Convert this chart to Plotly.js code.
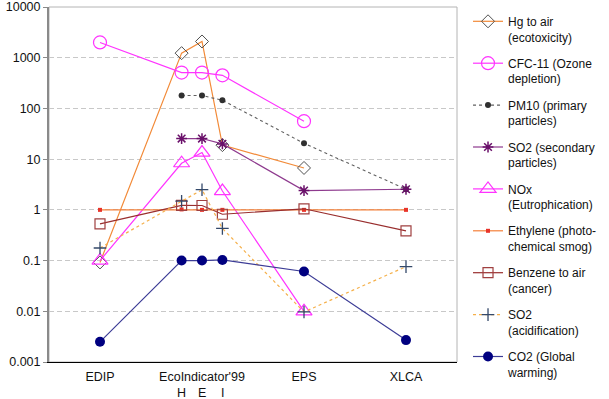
<!DOCTYPE html>
<html>
<head>
<meta charset="utf-8">
<script src="https://cdn.plot.ly/plotly-3.0.1.min.js"></script>
<style>html,body{margin:0;padding:0;background:#fff;}#chart{width:609px;height:399px;}</style>
</head>
<body>
<div id="chart"></div>
<script>
// Categories (methods); EcoIndicator'99 has three perspectives H, E, I
const categories = ['EDIP', 'H', 'E', 'I', 'EPS', 'XLCA'];
const mainLabels = ['EDIP', "EcoIndicator'99", 'EPS', 'XLCA'];
const subLabels = ['H', 'E', 'I'];
const yTickVals = [0.001, 0.01, 0.1, 1, 10, 100, 1000, 10000];
const yTickText = ['0.001', '0.01', '0.1', '1', '10', '100', '1000', '10000'];

// Series values (null = not available)
const hgToAir    = [0.092, 1230, 2090, 18.9, 6.7, null];
const cfc11      = [2000, 510, 510, 450, 56, null];
const pm10       = [null, 180, 180, 145, 20.5, 2.55];
const so2Second  = [null, 25.5, 25.5, 20, 2.4, 2.55];
const nox        = [0.1, 8.3, 13.5, 2.35, 0.01, null];
const ethylene   = [1, 1.02, 1, 1, 1, 1];
const benzene    = [0.53, 1.23, 1.22, 0.82, 1.05, 0.385];
const so2Acid    = [0.177, 1.48, 2.5, 0.43, 0.0097, 0.076];
const co2        = [0.0025, 0.1, 0.1, 0.103, 0.061, 0.0027];

// category positions on the numeric x axis
const catPos = {EDIP: 0, H: 0.8, E: 1, I: 1.2, EPS: 2, XLCA: 3};
const mainPos = {EDIP: 0, "EcoIndicator'99": 1, EPS: 2, XLCA: 3};
const xs = categories.map(c => catPos[c]);

function tr(name, y, line, marker, g) {
  return {type: 'scatter', mode: 'lines+markers', name: name, x: xs, y: y,
          connectgaps: false, line: line, marker: marker, legendgroup: g};
}

const data = [
  tr('Hg to air<br>(ecotoxicity)', hgToAir, {color: '#f28a38', width: 1.2},
     {symbol: 'diamond-open', size: 10, color: '#505050', line: {width: 1, color: '#505050'}}, 'g1'),
  tr('CFC-11 (Ozone<br>depletion)', cfc11, {color: '#ff33ff', width: 1.2},
     {symbol: 'circle-open', size: 13, color: '#ff33ff', line: {width: 1.2, color: '#ff33ff'}}, 'g2'),
  tr('PM10 (primary<br>particles)', pm10, {color: '#606060', width: 1.1, dash: 'dot'},
     {symbol: 'circle', size: 6, color: '#303030'}, 'g3'),
  tr('SO2 (secondary<br>particles)', so2Second, {color: '#8e3a8e', width: 1.2},
     {symbol: 'asterisk-open', size: 9, color: '#6a106a', line: {width: 1.5, color: '#6a106a'}}, 'g4'),
  tr('NOx<br>(Eutrophication)', nox, {color: '#ff33ff', width: 1.2},
     {symbol: 'triangle-up-open', size: 14, color: '#ff33ff', line: {width: 1.2, color: '#ff33ff'}}, 'g5'),
  tr('Ethylene (photo-<br>chemical smog)', ethylene, {color: '#f4803a', width: 1.2},
     {symbol: 'square', size: 4, color: '#e8342a'}, 'g6'),
  tr('Benzene to air<br>(cancer)', benzene, {color: '#992e2e', width: 1.2},
     {symbol: 'square-open', size: 10, color: '#a04040', line: {width: 1.2, color: '#a04040'}}, 'g7'),
  tr('SO2<br>(acidification)', so2Acid, {color: '#f5b04a', width: 1.2, dash: 'dot'},
     {symbol: 'cross-thin-open', size: 9, color: '#34496a', line: {width: 1.3, color: '#34496a'}}, 'g8'),
  tr('CO2 (Global<br>warming)', co2, {color: '#3c3c96', width: 1.2},
     {symbol: 'circle', size: 10, color: '#000080'}, 'g9')
];

const annotations = subLabels.map(s => ({
  x: catPos[s], xref: 'x', y: -0.0887, yref: 'paper', yanchor: 'middle', xanchor: 'center',
  text: s, showarrow: false, borderpad: 0, font: {size: 12.5, color: '#111'}
}));

const layout = {
  width: 609, height: 399,
  margin: {l: 49, r: 150, t: 7, b: 37},
  paper_bgcolor: '#ffffff', plot_bgcolor: '#ffffff',
  font: {family: 'Liberation Sans, Arial, sans-serif', size: 12, color: '#111'},
  showlegend: true,
  xaxis: {
    range: [-0.5, 3.5], tickvals: mainLabels.map(l => mainPos[l]), ticktext: mainLabels, tickangle: 0,
    showgrid: false, zeroline: false, showline: true, linecolor: '#000', linewidth: 1.3,
    ticks: '', ticklabelstandoff: 3, tickfont: {size: 12.5, color: '#111'}, fixedrange: true
  },
  yaxis: {
    type: 'log', range: [-3, 4], tickvals: yTickVals, ticktext: yTickText,
    ticklabeloverflow: 'allow',
    showgrid: true, gridcolor: '#c8c8c8', griddash: '5px,3px', gridwidth: 1,
    zeroline: false, showline: true, linecolor: '#8a8a8a', linewidth: 2,
    ticks: 'outside', ticklen: 4, tickcolor: '#8a8a8a', tickwidth: 1,
    tickfont: {size: 12.5, color: '#111'}, fixedrange: true
  },
  annotations: annotations,
  shapes: [
    {type: 'rect', xref: 'paper', yref: 'paper', x0: 0, x1: 1, y0: 0, y1: 1,
     line: {color: '#b4b4b4', width: 1}, layer: 'below'}
  ],
  legend: {
    x: 1.027, xanchor: 'left', y: 1.0, yanchor: 'top', maxheight: 399,
    valign: 'top', tracegroupgap: 7.7, bgcolor: 'rgba(0,0,0,0)',
    font: {size: 12, color: '#111'}, itemclick: false
  }
};

Plotly.newPlot('chart', data, layout, {displayModeBar: false, staticPlot: true});
</script>
</body>
</html>
